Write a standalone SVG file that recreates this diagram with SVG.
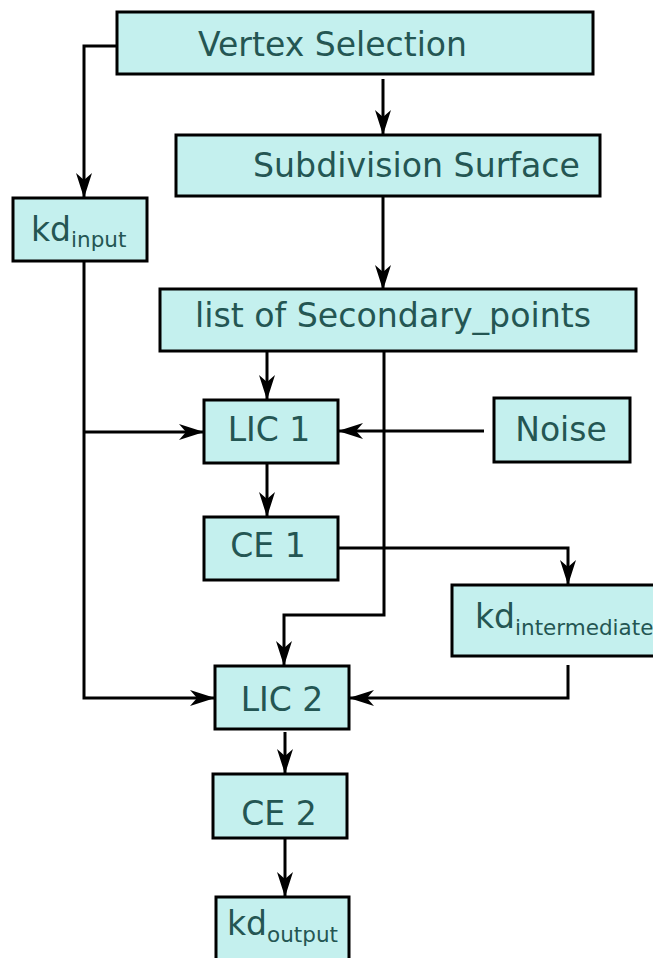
<svg xmlns="http://www.w3.org/2000/svg" width="653" height="958" viewBox="0 0 653 958">
  <style>
    .box { fill: #c4f0ee; stroke: #000; stroke-width: 3; }
    .lbl { font-family: "DejaVu Sans", "Liberation Sans", sans-serif; font-size: 33px; fill: #245653; }
    .sub { font-size: 21.5px; }
    .wire { fill: none; stroke: #000; stroke-width: 3; }
    .arr { marker-end: url(#head); }
  </style>
  <defs>
    <marker id="head" markerUnits="userSpaceOnUse" markerWidth="26" markerHeight="18" refX="25" refY="9" orient="auto">
      <path d="M0,1 L25,9 L0,17 L7,9 z" fill="#000"/>
    </marker>
  </defs>

  <g id="connectors">
    <path class="wire arr" d="M117,46 H84 V198"/>
    <path class="wire arr" d="M383,79 V135"/>
    <path class="wire arr" d="M383,196 V290"/>
    <path class="wire arr" d="M267,350 V400"/>
    <path class="wire arr" d="M384,350 V615 H284 V666"/>
    <path class="wire arr" d="M84,262 V698 H215"/>
    <path class="wire arr" d="M84,432 H204"/>
    <path class="wire arr" d="M484,431 H338"/>
    <path class="wire arr" d="M267,463 V517"/>
    <path class="wire arr" d="M335,548 H568 V585"/>
    <path class="wire arr" d="M568,665 V698 H349"/>
    <path class="wire arr" d="M285,732 V774"/>
    <path class="wire arr" d="M285,833 V897"/>
  </g>

  <g id="vertex-selection">
    <rect class="box" x="117" y="12" width="476" height="62"/>
    <text class="lbl" x="198" y="56" textLength="269" lengthAdjust="spacingAndGlyphs">Vertex Selection</text>
  </g>
  <g id="subdivision-surface">
    <rect class="box" x="176" y="135" width="424" height="61"/>
    <text class="lbl" x="253" y="177" textLength="327" lengthAdjust="spacingAndGlyphs">Subdivision Surface</text>
  </g>
  <g id="kd-input">
    <rect class="box" x="13" y="198" width="134" height="63"/>
    <text class="lbl" x="31" y="241">kd<tspan class="sub" dy="6">input</tspan></text>
  </g>
  <g id="secondary-points">
    <rect class="box" x="160" y="289" width="476" height="62"/>
    <text class="lbl" x="195" y="327" textLength="396" lengthAdjust="spacingAndGlyphs">list of Secondary_points</text>
  </g>
  <g id="lic1">
    <rect class="box" x="204" y="400" width="134" height="63"/>
    <text class="lbl" x="269" y="441" text-anchor="middle">LIC 1</text>
  </g>
  <g id="noise">
    <rect class="box" x="494" y="398" width="136" height="64"/>
    <text class="lbl" x="561" y="441" text-anchor="middle">Noise</text>
  </g>
  <g id="ce1">
    <rect class="box" x="204" y="517" width="134" height="63"/>
    <text class="lbl" x="268" y="557" text-anchor="middle">CE 1</text>
  </g>
  <g id="kd-intermediate">
    <rect class="box" x="452" y="585" width="210" height="71"/>
    <text class="lbl" x="475" y="628">kd<tspan class="sub" dy="7">intermediate</tspan></text>
  </g>
  <g id="lic2">
    <rect class="box" x="215" y="666" width="134" height="63"/>
    <text class="lbl" x="282" y="711" text-anchor="middle">LIC 2</text>
  </g>
  <g id="ce2">
    <rect class="box" x="213" y="774" width="134" height="64"/>
    <text class="lbl" x="279" y="825" text-anchor="middle">CE 2</text>
  </g>
  <g id="kd-output">
    <rect class="box" x="216" y="897" width="133" height="70"/>
    <text class="lbl" x="227" y="935">kd<tspan class="sub" dy="7">output</tspan></text>
  </g>
</svg>
